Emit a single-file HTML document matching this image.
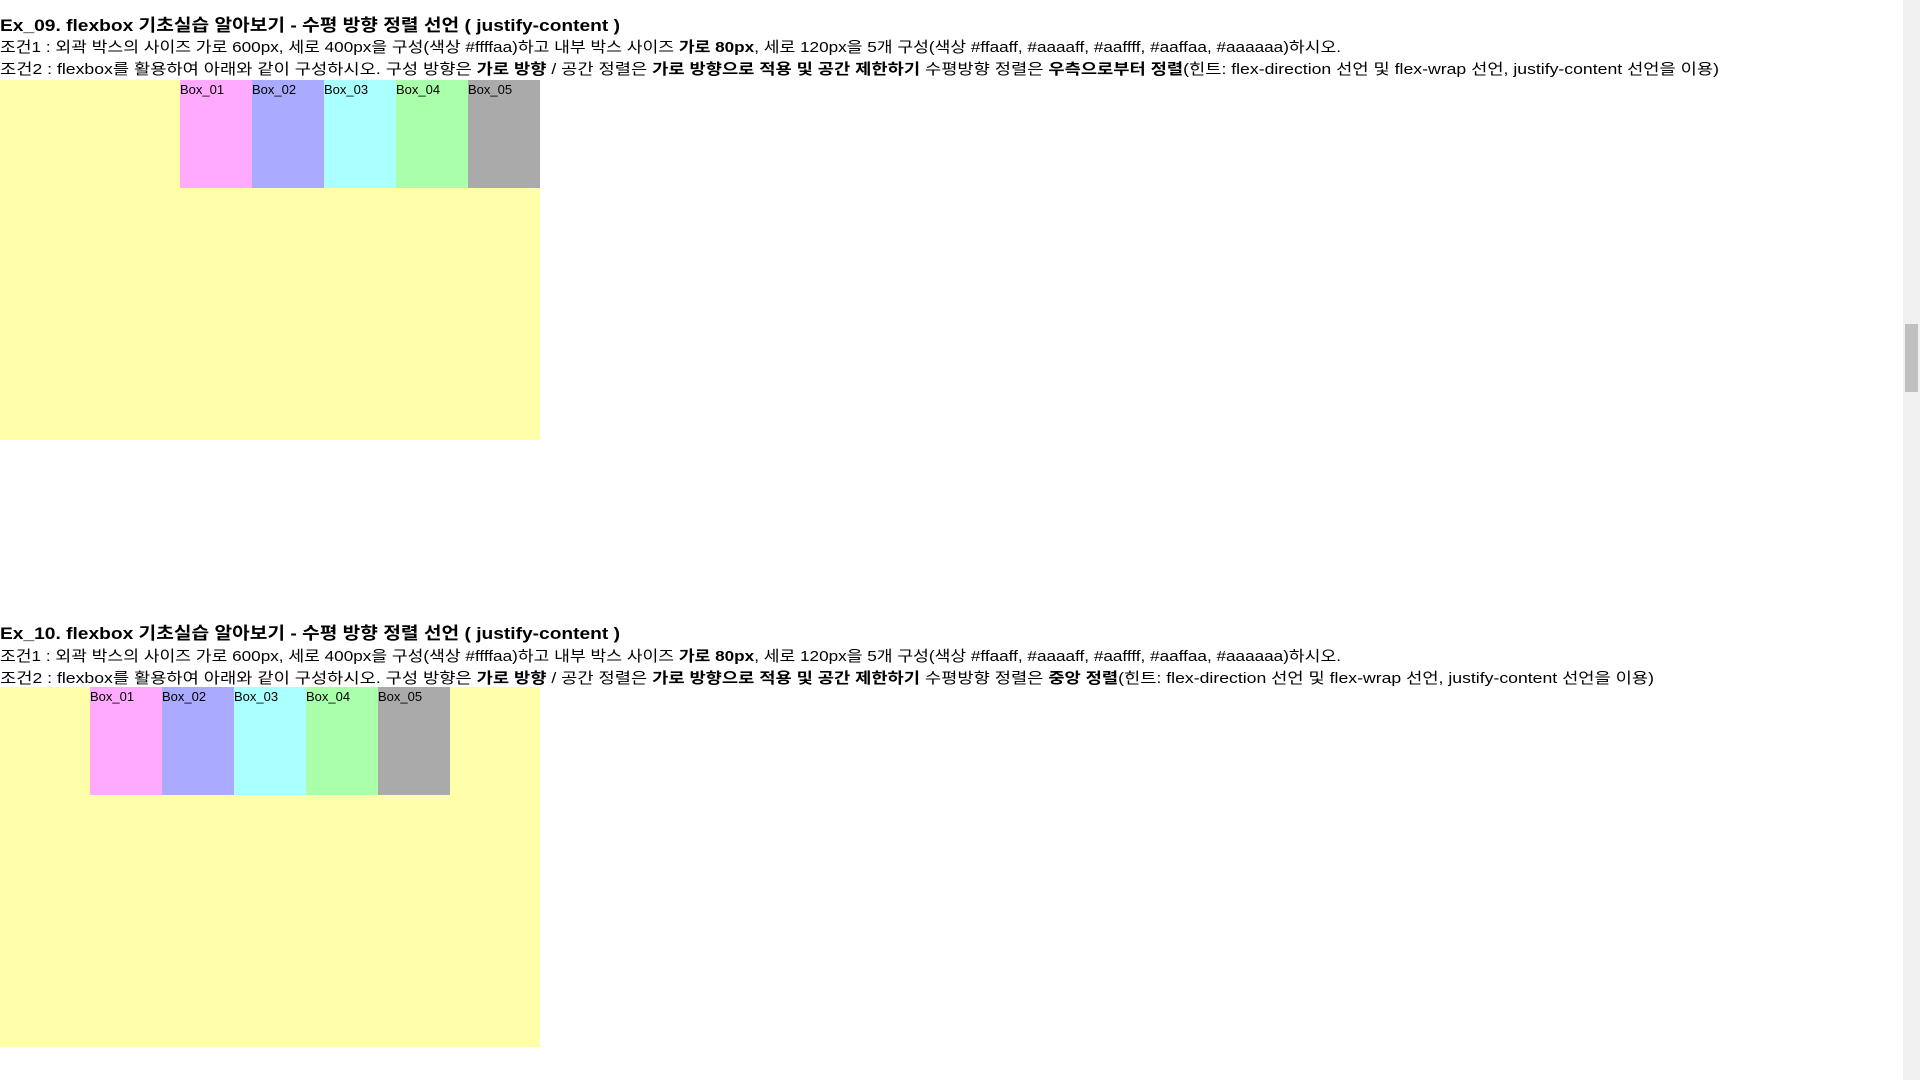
<!DOCTYPE html>
<html><head><meta charset="utf-8">
<style>
html,body{margin:0;padding:0;width:1920px;height:1080px;overflow:hidden;background:#fff;}
body{position:relative;font-family:"Liberation Sans","Noto Sans CJK KR","NanumGothic",sans-serif;color:#000;}
.ln{position:absolute;left:0;white-space:nowrap;font-size:15px;line-height:22px;transform-origin:0 50%;}
.tt{font-size:17px;font-weight:bold;}
.outer{position:absolute;left:0;width:540px;height:360px;background:#ffffaa;}
.bx{position:absolute;top:0;width:72px;height:108px;font-size:13px;line-height:16px;padding-top:2px;box-sizing:border-box;}
.sb{position:absolute;left:1903px;top:0;width:17px;height:1080px;background:#f0f0f0;}
.thumb{position:absolute;left:2px;top:324px;width:13px;height:68px;background:#c0c0c0;}
</style></head><body>
<div class="ln tt" data-w="620" style="top:15px">Ex_09. flexbox 기초실습 알아보기 - 수평 방향 정렬 선언 ( justify-content )</div>
<div class="ln" data-w="1341" style="top:37px">조건1 : 외곽 박스의 사이즈 가로 600px, 세로 400px을 구성(색상 #ffffaa)하고 내부 박스 사이즈 <b>가로 80px</b>, 세로 120px을 5개 구성(색상 #ffaaff, #aaaaff, #aaffff, #aaffaa, #aaaaaa)하시오.</div>
<div class="ln" data-w="1719" style="top:59px">조건2 : flexbox를 활용하여 아래와 같이 구성하시오. 구성 방향은 <b>가로 방향</b> / 공간 정렬은 <b>가로 방향으로 적용 및 공간 제한하기</b> 수평방향 정렬은 <b>우측으로부터 정렬</b>(힌트: flex-direction 선언 및 flex-wrap 선언, justify-content 선언을 이용)</div>
<div class="outer" style="top:80px">
<div class="bx" style="left:180px;background:#ffaaff">Box_01</div>
<div class="bx" style="left:252px;background:#aaaaff">Box_02</div>
<div class="bx" style="left:324px;background:#aaffff">Box_03</div>
<div class="bx" style="left:396px;background:#aaffaa">Box_04</div>
<div class="bx" style="left:468px;background:#aaaaaa">Box_05</div>
</div>
<div class="ln tt" data-w="620" style="top:623px">Ex_10. flexbox 기초실습 알아보기 - 수평 방향 정렬 선언 ( justify-content )</div>
<div class="ln" data-w="1341" style="top:646px">조건1 : 외곽 박스의 사이즈 가로 600px, 세로 400px을 구성(색상 #ffffaa)하고 내부 박스 사이즈 <b>가로 80px</b>, 세로 120px을 5개 구성(색상 #ffaaff, #aaaaff, #aaffff, #aaffaa, #aaaaaa)하시오.</div>
<div class="ln" data-w="1654" style="top:668px">조건2 : flexbox를 활용하여 아래와 같이 구성하시오. 구성 방향은 <b>가로 방향</b> / 공간 정렬은 <b>가로 방향으로 적용 및 공간 제한하기</b> 수평방향 정렬은 <b>중앙 정렬</b>(힌트: flex-direction 선언 및 flex-wrap 선언, justify-content 선언을 이용)</div>
<div class="outer" style="top:687px">
<div class="bx" style="left:90px;background:#ffaaff">Box_01</div>
<div class="bx" style="left:162px;background:#aaaaff">Box_02</div>
<div class="bx" style="left:234px;background:#aaffff">Box_03</div>
<div class="bx" style="left:306px;background:#aaffaa">Box_04</div>
<div class="bx" style="left:378px;background:#aaaaaa">Box_05</div>
</div>
<div class="sb"><div class="thumb"></div></div>
<script>
document.querySelectorAll('.ln').forEach(function(el){
  var w=el.getBoundingClientRect().width, t=+el.getAttribute('data-w');
  if(w>0&&t) el.style.transform='scaleX('+(t/w)+')';
});
</script>
</body></html>
